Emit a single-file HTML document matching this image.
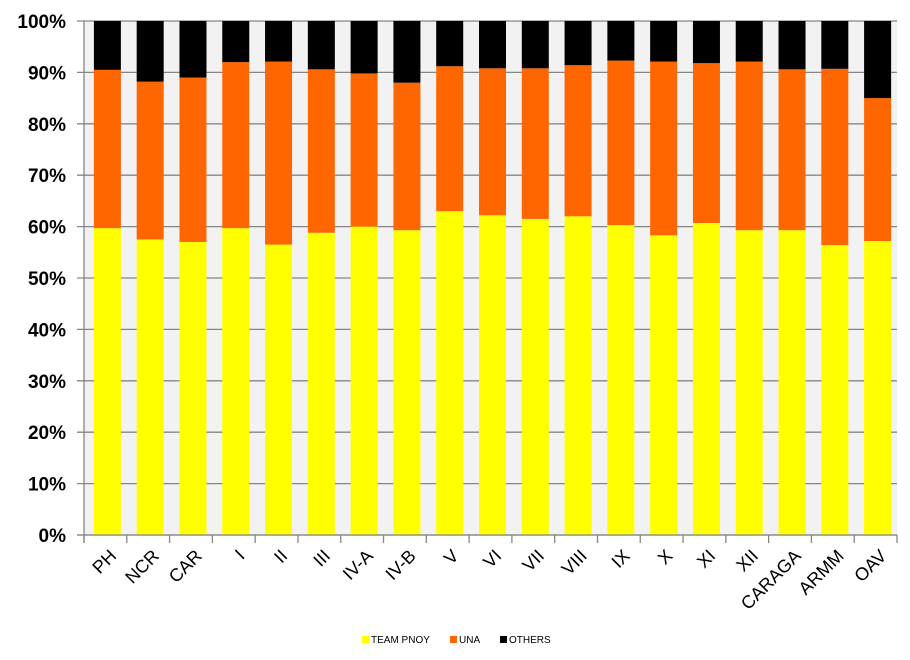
<!DOCTYPE html>
<html><head><meta charset="utf-8"><style>
body{margin:0;background:#fff;}
svg{display:block;font-family:"Liberation Sans",sans-serif;}
</style></head><body>
<svg id="c" width="910" height="660"></svg>
<script>
const categories=["PH","NCR","CAR","I","II","III","IV-A","IV-B","V","VI","VII","VIII","IX","X","XI","XII","CARAGA","ARMM","OAV"];
const teamPnoy=[59.7,57.5,57.0,59.7,56.5,58.8,60.0,59.3,63.0,62.2,61.5,62.0,60.3,58.3,60.7,59.3,59.3,56.4,57.2];
const una=[30.8,30.7,32.0,32.3,35.6,31.8,29.8,28.7,28.2,28.6,29.3,29.4,32.0,33.8,31.1,32.8,31.3,34.3,27.8];
const others=[9.5,11.8,11.0,8.0,7.9,9.4,10.2,12.0,8.8,9.2,9.2,8.6,7.7,7.9,8.2,7.9,9.4,9.3,15.0];
const yTicks=["0%","10%","20%","30%","40%","50%","60%","70%","80%","90%","100%"];
const NS="http://www.w3.org/2000/svg";
const svg=document.getElementById('c');
const L=84,R=897,T=21,B=535;
const band=(R-L)/categories.length;
const y=v=>B-(v/100)*(B-T);
const xc=i=>L+band*(i+0.5)+2;
function mk(t,a,p){const e=document.createElementNS(NS,t);for(const k in a)e.setAttribute(k,a[k]);(p||svg).appendChild(e);return e;}
const bg=mk('rect',{x:L,y:T,width:R-L,height:B-T,fill:'#f2f2f2'});


yTicks.forEach((t,i)=>{
  const yy=y(i*10);
  const g=mk('line',{x1:L-7,x2:R,y1:yy,y2:yy,stroke:'#868686','stroke-width':1.3});
  
  
  const tx=mk('text',{x:L-18,y:yy+7,'text-anchor':'end','font-size':19,'font-weight':'bold',fill:'#000'});
  tx.textContent=t;
  
  
});
const bw=27;
categories.forEach((c,i)=>{
  const x=xc(i)-bw/2;
  const segs=[[teamPnoy[i],'#ffff00'],[una[i],'#ff6600'],[others[i],'#000000']];
  let acc=0;
  segs.forEach((s,k)=>{
    const r=mk('rect',{x:x,y:y(acc+s[0]),width:bw,height:y(acc)-y(acc+s[0]),fill:s[1]});
    
    
    acc+=s[0];
  });
  const tk=mk('line',{x1:L+band*i,x2:L+band*i,y1:B,y2:B+8,stroke:'#868686','stroke-width':1.3});
  
  
  const tx=mk('text',{x:xc(i)+10,y:B+22,'text-anchor':'end','font-size':18,fill:'#000',transform:`rotate(-45 ${xc(i)+10} ${B+22})`});
  tx.textContent=c;
  
  
});
const lastTick=mk('line',{x1:R,x2:R,y1:B,y2:B+8,stroke:'#868686','stroke-width':1.3});


const ax=mk('line',{x1:L,x2:L,y1:T,y2:B+8,stroke:'#868686','stroke-width':1.3});


const ax2=mk('line',{x1:L-7,x2:R,y1:B,y2:B,stroke:'#868686','stroke-width':1.3});


const leg=[["TEAM PNOY","#ffff00",362],["UNA","#ff6600",450],["OTHERS","#000000",500]];
leg.forEach(l=>{
  const g=mk('g',{});
  
  
  mk('rect',{x:l[2],y:636,width:7,height:7,fill:l[1]},g);
  const t=mk('text',{x:l[2]+9,y:643,'font-size':10,fill:'#000'},g);
  t.textContent=l[0];
});
</script>
</body></html>
